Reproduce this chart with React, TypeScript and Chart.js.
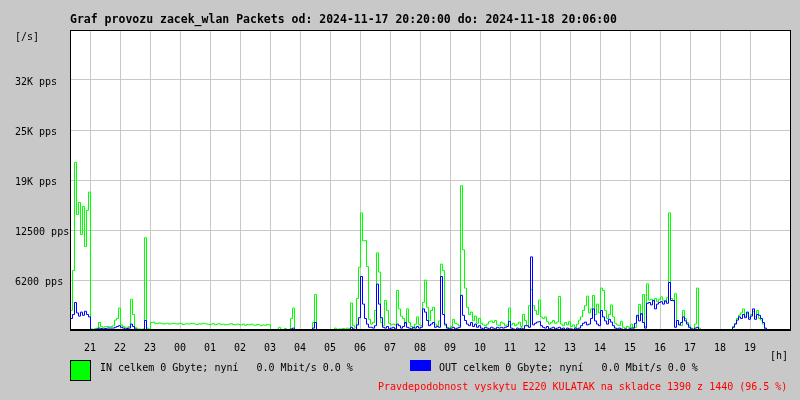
import React, { useEffect, useRef } from "react";
import { Chart, registerables } from "chart.js";

Chart.register(...registerables);

// ---------- text ----------
const TITLE = "Graf provozu zacek_wlan Packets od: 2024-11-17 20:20:00 do: 2024-11-18 20:06:00";
const IN_LEGEND = "IN celkem 0 Gbyte; nyní   0.0 Mbit/s 0.0 %";
const OUT_LEGEND = "OUT celkem 0 Gbyte; nyní   0.0 Mbit/s 0.0 %";
const FOOTER = "Pravdepodobnost vyskytu E220 KULATAK na skladce 1390 z 1440 (96.5 %)";
const Y_UNIT = "[/s]";
const X_UNIT = "[h]";

// ---------- axes ----------
const HOUR_LABELS = ["21", "22", "23", "00", "01", "02", "03", "04", "05", "06", "07", "08", "09", "10", "11", "12", "13", "14", "15", "16", "17", "18", "19"];
const FIRST_HOUR_MINUTE = 40; // 21:00 is 40 min after the 20:20 start
const SPAN_MINUTES = 1440;
const SAMPLE_MINUTES = 4;
const Y_TICK_VALUES = [6250, 12500, 18750, 25000, 31250];
const Y_TICK_LABELS = ["6200 pps", "12500 pps", "19K pps", "25K pps", "32K pps"];
const Y_MAX = 37500;

// ---------- data (packets/s, one value per 4 minutes from 20:20) ----------
const IN_PPS = [
  2500, 7500, 21000, 14500, 16000, 12000, 15500, 10500, 15000, 17300,
  200, 150, 250, 300, 1000, 500, 400, 500, 500, 450,
  500, 600, 1300, 1500, 2800, 700, 500, 400, 400, 500,
  3900, 2000, 400, 200, 200, 150, 200, 11600, 300, 200,
  1000, 1050, 900, 850, 950, 900, 800, 850, 900, 800,
  850, 900, 850, 800, 900, 850, 750, 800, 850, 800,
  900, 850, 800, 750, 850, 800, 900, 850, 800, 750,
  800, 850, 700, 800, 850, 750, 800, 700, 750, 800,
  850, 750, 700, 800, 750, 700, 800, 650, 750, 700,
  800, 700, 650, 750, 700, 600, 700, 650, 750, 700,
  100, 80, 80, 150, 400, 100, 100, 250, 100, 150,
  1500, 2800, 100, 100, 80, 100, 100, 80, 100, 100,
  100, 1000, 4500, 100, 100, 80, 100, 100, 80, 100,
  100, 100, 300, 150, 200, 200, 250, 200, 300, 250,
  3450, 600, 400, 4000, 7900, 14700, 11200, 11250, 8000, 1400,
  800, 1000, 2500, 9700, 7300, 1000, 600, 3750, 2500, 900,
  700, 800, 700, 5000, 2700, 1800, 1500, 900, 2700, 1000,
  500, 300, 800, 1700, 700, 600, 3500, 6300, 2900, 1200,
  2500, 2900, 800, 600, 1200, 8300, 7500, 600, 400, 300,
  500, 1400, 900, 800, 600, 18100, 10100, 5300, 2900, 2000,
  2300, 1200, 1800, 900, 1500, 900, 700, 600, 800, 1100,
  1200, 1000, 1250, 700, 600, 1050, 900, 600, 700, 2800,
  700, 900, 600, 800, 1050, 500, 2000, 1250, 600, 3100,
  5100, 3100, 2500, 2000, 3800, 1700, 1500, 1700, 1100, 800,
  1000, 1250, 900, 1050, 4250, 800, 600, 1000, 700, 1100,
  500, 700, 400, 800, 1300, 1700, 2500, 3100, 4300, 2200,
  2700, 4375, 2000, 3300, 2200, 5300, 5000, 2500, 1500, 2000,
  3200, 1700, 900, 700, 600, 1150, 400, 300, 500, 400,
  800, 300, 400, 1700, 3250, 2000, 4500, 500, 5830, 3800,
  3900, 3700, 4000, 3600, 3900, 4200, 3800, 3600, 4100, 14700,
  4000, 3700, 4600, 1250, 800, 600, 2500, 1500, 1000, 600,
  300, 200, 800, 5300, 300, 100, 0, 0, 0, 0,
  0, 0, 0, 0, 0, 0, 0, 0, 0, 0,
  0, 500, 900, 1500, 1900, 2200, 2700, 1800, 2100, 1600,
  2000, 2400, 1700, 2500, 1500, 1300, 800, 200, 0, 0,
  0, 0, 0, 0, 0, 0, 0, 0, 0, 0,
];

const OUT_PPS = [
  1500, 2000, 3500, 2200, 1800, 2300, 1900, 2400, 2000, 1700,
  0, 50, 100, 200, 300, 250, 200, 250, 300, 300,
  300, 300, 400, 500, 600, 400, 300, 200, 250, 300,
  800, 500, 200, 100, 50, 0, 50, 1250, 100, 50,
  0, 0, 0, 0, 0, 0, 0, 0, 0, 0,
  0, 0, 0, 0, 0, 0, 0, 0, 0, 0,
  0, 0, 0, 100, 100, 0, 0, 0, 100, 100,
  0, 0, 0, 100, 100, 100, 0, 0, 0, 0,
  0, 0, 0, 0, 0, 0, 0, 0, 0, 0,
  0, 0, 0, 100, 100, 0, 0, 0, 0, 0,
  0, 0, 0, 0, 50, 0, 0, 0, 0, 0,
  200, 300, 0, 0, 0, 0, 0, 0, 0, 0,
  0, 300, 1000, 0, 0, 0, 0, 0, 0, 0,
  0, 0, 50, 0, 0, 0, 50, 0, 100, 50,
  400, 200, 100, 700, 1600, 6750, 3300, 1500, 800, 400,
  400, 300, 600, 5800, 3300, 1600, 400, 300, 500, 200,
  300, 400, 200, 800, 600, 300, 500, 1000, 400, 300,
  200, 400, 300, 500, 300, 400, 2700, 2300, 1250, 600,
  800, 1000, 400, 500, 400, 6750, 2000, 800, 300, 200,
  300, 400, 200, 300, 400, 4400, 1900, 1250, 800, 600,
  1000, 500, 800, 400, 600, 300, 200, 400, 300, 200,
  400, 300, 200, 400, 300, 400, 300, 400, 500, 1150,
  300, 200, 100, 300, 200, 300, 200, 600, 600, 400,
  9200, 700, 900, 1050, 1100, 600, 400, 300, 500, 200,
  300, 400, 200, 300, 400, 200, 300, 100, 300, 200,
  200, 100, 300, 200, 300, 600, 900, 1050, 700, 800,
  1500, 2700, 1200, 800, 600, 2500, 1700, 1200, 800, 1400,
  1050, 600, 300, 200, 300, 200, 100, 200, 100, 200,
  300, 300, 900, 1900, 1200, 2100, 1000, 300, 3400, 3500,
  3200, 3750, 2700, 3300, 3500, 3600, 3300, 3700, 3400, 6000,
  3750, 3750, 400, 1250, 700, 1000, 1700, 1200, 800, 400,
  200, 100, 300, 400, 100, 0, 0, 0, 0, 0,
  0, 0, 0, 0, 0, 0, 0, 0, 0, 0,
  0, 400, 800, 1300, 1700, 1500, 2000, 1600, 2300, 1400,
  1800, 2700, 1400, 2000, 1900, 1500, 1000, 300, 0, 0,
  0, 0, 0, 0, 0, 0, 0, 0, 0, 0,
];

// ---------- styles ----------
const BG = "#c8c8c8";
const GRID = "#c8c8c8";
const IN_COLOR = "#00ff00";
const OUT_COLOR = "#0000ff";
const MONO = "'DejaVu Sans Mono', 'Liberation Mono', monospace";

const mrtgPlugin = {
  id: "mrtg",
  beforeDraw(chart: any) {
    const { ctx, chartArea: a } = chart;
    ctx.save();
    ctx.fillStyle = BG;
    ctx.fillRect(0, 0, chart.width, chart.height);
    ctx.fillStyle = "#ffffff";
    ctx.fillRect(a.left, a.top, a.right - a.left, a.bottom - a.top);
    ctx.restore();
  },
  beforeDatasetsDraw(chart: any) {
    chart.ctx.save();
    chart.ctx.translate(0.5, 0.5);
  },
  afterDatasetsDraw(chart: any) {
    chart.ctx.restore();
  },
  afterDraw(chart: any) {
    const { ctx, chartArea: a, scales } = chart;
    ctx.save();
    // frame
    ctx.fillStyle = "#000000";
    ctx.fillRect(a.left, a.top, a.right - a.left + 1, 1);
    ctx.fillRect(a.left, a.top, 1, a.bottom - a.top);
    ctx.fillRect(a.right, a.top, 1, a.bottom - a.top);
    ctx.fillRect(a.left, a.bottom - 1, a.right - a.left + 1, 2);

    // title
    ctx.textBaseline = "alphabetic";
    ctx.textAlign = "left";
    ctx.font = `bold 11.5px ${MONO}`;
    ctx.fillText(TITLE, a.left, 23);

    ctx.font = `10px ${MONO}`;
    // y labels
    ctx.fillText(Y_UNIT, 15, 40);
    Y_TICK_VALUES.forEach((v, i) => {
      const y = scales.y.getPixelForValue(v);
      ctx.fillText(Y_TICK_LABELS[i], 15, y + 5);
    });
    // x labels
    ctx.textAlign = "center";
    HOUR_LABELS.forEach((lab, k) => {
      const x = scales.x.getPixelForValue(FIRST_HOUR_MINUTE + 60 * k);
      ctx.fillText(lab, x, 351);
    });
    ctx.textAlign = "left";
    ctx.fillText(X_UNIT, 770, 359);

    // legend
    ctx.fillStyle = "#000000";
    ctx.fillRect(70, 360, 21, 21);
    ctx.fillStyle = IN_COLOR;
    ctx.fillRect(71, 361, 19, 19);
    ctx.fillStyle = OUT_COLOR;
    ctx.fillRect(410, 360, 21, 11);
    ctx.fillStyle = "#000000";
    ctx.fillText(IN_LEGEND, 100, 371);
    ctx.fillText(OUT_LEGEND, 439, 371);
    ctx.fillStyle = "#ff0000";
    ctx.fillText(FOOTER, 378, 390);
    ctx.restore();
  },
};

export default function App() {
  const ref = useRef<HTMLCanvasElement | null>(null);

  useEffect(() => {
    if (!ref.current) return;
    const toPoints = (arr: number[]) => arr.map((v, i) => ({ x: i * SAMPLE_MINUTES, y: v }));
    const chart = new Chart(ref.current, {
      type: "line",
      data: {
        datasets: [
          {
            label: "IN",
            data: toPoints(IN_PPS),
            borderColor: IN_COLOR,
            borderWidth: 1,
            pointRadius: 0,
            stepped: "before",
            fill: false,
            order: 2,
          },
          {
            label: "OUT",
            data: toPoints(OUT_PPS),
            borderColor: OUT_COLOR,
            borderWidth: 1,
            pointRadius: 0,
            stepped: "before",
            fill: false,
            order: 1,
          },
        ],
      },
      options: {
        animation: false,
        responsive: false,
        devicePixelRatio: 1,
        layout: { padding: { left: 70, top: 30, right: 10, bottom: 70 } },
        plugins: { legend: { display: false }, tooltip: { enabled: false }, title: { display: false } },
        events: [],
        scales: {
          x: {
            type: "linear",
            min: 0,
            max: SPAN_MINUTES,
            border: { display: false },
            grid: { color: GRID, lineWidth: 1, drawTicks: false },
            ticks: { display: false },
            afterBuildTicks: (scale: any) => {
              scale.ticks = HOUR_LABELS.map((_, k) => ({ value: FIRST_HOUR_MINUTE + 60 * k }));
            },
          },
          y: {
            type: "linear",
            min: 0,
            max: Y_MAX,
            border: { display: false },
            grid: { color: GRID, lineWidth: 1, drawTicks: false },
            ticks: { display: false, stepSize: 6250 },
          },
        },
      },
      plugins: [mrtgPlugin],
    } as any);
    return () => chart.destroy();
  }, []);

  return (
    <div style={{ position: "fixed", left: 0, top: 0, width: 800, height: 400, background: BG }}>
      <canvas ref={ref} width={800} height={400} style={{ display: "block" }} />
    </div>
  );
}
